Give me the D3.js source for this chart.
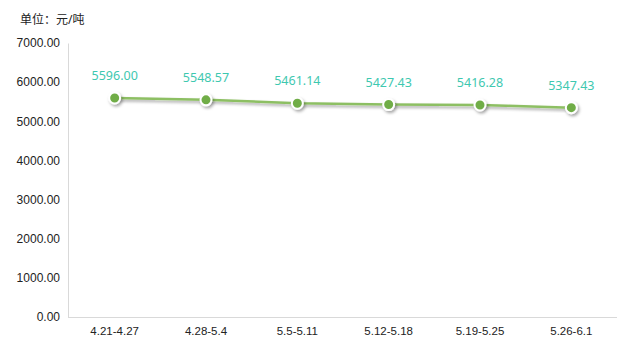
<!DOCTYPE html>
<html><head><meta charset="utf-8">
<script src="https://cdn.jsdelivr.net/npm/d3@7/dist/d3.min.js"></script>
<style>body{margin:0;background:#fff;}svg{display:block;font-family:"Noto Sans","Noto Sans CJK SC",sans-serif;}</style>
</head><body>
<svg id="c" width="634" height="355"></svg>
<script>
const categories = ["4.21-4.27","4.28-5.4","5.5-5.11","5.12-5.18","5.19-5.25","5.26-6.1"];
const values = [5596.00,5548.57,5461.14,5427.43,5416.28,5347.43];
const yTicks = [0,1000,2000,3000,4000,5000,6000,7000];
const unitLabel = "单位：元/吨";

const svg = d3.select("#c");
const defs = svg.append("defs");
const f = defs.append("filter").attr("id","sh").attr("x","-50%").attr("y","-50%").attr("width","200%").attr("height","200%");
f.append("feDropShadow").attr("dx",1.5).attr("dy",2).attr("stdDeviation",1.5).attr("flood-color","#000").attr("flood-opacity",0.35);

const x = d3.scaleBand().domain(categories).range([69,617]);
const y = d3.scaleLinear().domain([0,7000]).range([317,43]);

svg.append("text").attr("x",20).attr("y",24).attr("font-size",12).attr("fill","#222").text(unitLabel);

// y axis
const ya = svg.append("g").attr("transform","translate(68,0)").call(d3.axisLeft(y).tickValues(yTicks).tickSize(0).tickPadding(8).tickFormat(d=>d3.format(".2f")(d)));
ya.select(".domain").attr("stroke","#d9d9d9");
ya.selectAll("text").attr("font-size",12).attr("fill","#222").attr("font-family","inherit");

// x axis
const xa = svg.append("g").attr("transform","translate(0,317)").call(d3.axisBottom(x).tickSize(0).tickPadding(10));
xa.select(".domain").attr("stroke","#d9d9d9").attr("d","M68,0.5H617");
xa.selectAll("text").attr("font-size",11.5).attr("fill","#222").attr("font-family","inherit");

const cx = d => x(d) + x.bandwidth()/2;
const line = d3.line().x((d,i)=>cx(categories[i])).y(d=>y(d));
svg.append("path").datum(values).attr("d",line).attr("fill","none").attr("stroke","#8dbf63").attr("stroke-width",2.5).attr("filter","url(#sh)");

svg.selectAll("circle.p").data(values).join("circle").attr("class","p")
  .attr("cx",(d,i)=>cx(categories[i])).attr("cy",d=>y(d)).attr("r",5.5)
  .attr("fill","#70ad47").attr("stroke","#fff").attr("stroke-width",2).attr("filter","url(#sh)");

svg.selectAll("text.v").data(values).join("text").attr("class","v")
  .attr("x",(d,i)=>cx(categories[i])).attr("y",d=>y(d)-18)
  .attr("text-anchor","middle").attr("font-size",12.5).attr("fill","#3ec8b0")
  .text(d=>d3.format(".2f")(d));
</script>
</body></html>
